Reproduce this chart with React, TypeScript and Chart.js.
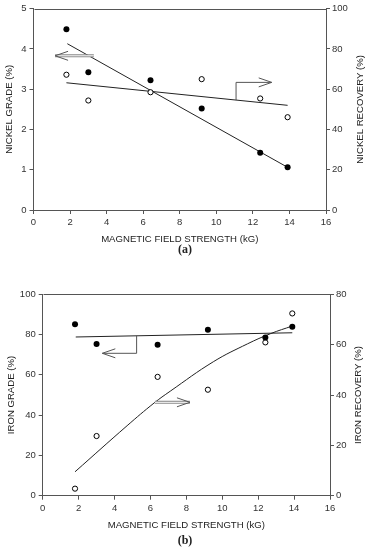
import React, { useEffect, useRef } from 'react';
import { Chart, registerables } from 'chart.js';

Chart.register(...registerables);

// ---------- Panel (a): nickel ----------
const fieldA = [1.8, 3.0, 6.4, 9.2, 12.4, 13.9];
const nickelGrade = [4.49, 3.42, 3.22, 2.52, 1.42, 1.06];
const nickelRecovery = [67.2, 54.4, 58.5, 65.0, 55.4, 46.1];
const nickelGradeFitX = [1.85, 13.9];
const nickelGradeFitY = [4.13, 1.06];
const nickelRecoveryFitX = [1.8, 13.9];
const nickelRecoveryFitY = [63.2, 52.0];
const nickelGradeArrowX = [3.3, 1.18];
const nickelGradeArrowY = [3.83, 3.83];
const nickelRecoveryArrowX = [11.08, 11.08, 13.03];
const nickelRecoveryArrowY = [54.6, 63.4, 63.4];

// ---------- Panel (b): iron ----------
const fieldB = [1.8, 3.0, 6.4, 9.2, 12.4, 13.9];
const ironGrade = [85.1, 75.3, 75.0, 82.4, 78.5, 83.9];
const ironRecovery = [2.8, 23.7, 47.2, 42.1, 60.9, 72.4];
const ironGradeFitX = [1.84, 13.9];
const ironGradeFitY = [78.8, 80.9];
const ironRecoveryCurveX = [1.8, 4.7, 6.2, 7.1, 9.5, 11.4, 12.7, 13.9];
const ironRecoveryCurveY = [9.5, 27.8, 36.8, 41.5, 53.2, 60.3, 64.4, 67.4];
const ironGradeArrowX = [5.23, 5.23, 3.32];
const ironGradeArrowY = [79.4, 70.7, 70.7];
const ironRecoveryArrowX = [6.25, 8.2];
const ironRecoveryArrowY = [37.1, 37.1];

// ---------- axes ----------
const xMin = 0, xMax = 16, xStep = 2;
const xTitle = 'MAGNETIC FIELD STRENGTH (kG)';

const FONT = "'Liberation Sans', Arial, sans-serif";
const AXIS = '#555';
const TXT = '#333';

type ArrowSpec = { xs: number[]; ys: number[]; axis: string; double: boolean };

function pts(xs: number[], ys: number[]) {
  return xs.map((x, i) => ({ x, y: ys[i] }));
}

function makePlugin(arrows: ArrowSpec[], rightTitle: string, rightTitleInset: number) {
  return {
    id: 'decor',
    afterDatasetsDraw(chart: any) {
      const ctx = chart.ctx;
      const area = chart.chartArea;
      const xs = chart.scales.x;
      ctx.save();
      // frame (top line)
      ctx.strokeStyle = AXIS;
      ctx.lineWidth = 1;
      ctx.beginPath();
      ctx.moveTo(Math.round(area.left) + 0.5, Math.round(area.top) + 0.5);
      ctx.lineTo(Math.round(area.right) + 0.5, Math.round(area.top) + 0.5);
      ctx.stroke();
      // arrows
      arrows.forEach((a) => {
        const ys = chart.scales[a.axis];
        const p = a.xs.map((x, i) => [xs.getPixelForValue(x), ys.getPixelForValue(a.ys[i])]);
        const path = () => {
          ctx.beginPath();
          p.forEach((q, i) => (i === 0 ? ctx.moveTo(q[0], q[1]) : ctx.lineTo(q[0], q[1])));
        };
        if (a.double) {
          path();
          ctx.strokeStyle = '#888';
          ctx.lineWidth = 3;
          ctx.stroke();
          path();
          ctx.strokeStyle = '#fff';
          ctx.lineWidth = 1;
          ctx.stroke();
        } else {
          path();
          ctx.strokeStyle = '#555';
          ctx.lineWidth = 1;
          ctx.stroke();
        }
        const tip = p[p.length - 1];
        const prev = p[p.length - 2];
        const dx = tip[0] - prev[0];
        const dy = tip[1] - prev[1];
        const len = Math.hypot(dx, dy) || 1;
        const ux = dx / len, uy = dy / len;
        const L = 13, W = 4.5;
        ctx.beginPath();
        ctx.moveTo(tip[0] - ux * L - uy * W, tip[1] - uy * L + ux * W);
        ctx.lineTo(tip[0], tip[1]);
        ctx.lineTo(tip[0] - ux * L + uy * W, tip[1] - uy * L - ux * W);
        ctx.strokeStyle = '#555';
        ctx.lineWidth = 1;
        ctx.stroke();
      });
      // right axis title, reading bottom-to-top
      ctx.fillStyle = '#222';
      ctx.font = `9.6px ${FONT}`;
      ctx.textAlign = 'center';
      ctx.textBaseline = 'middle';
      ctx.translate(chart.width - rightTitleInset, (area.top + area.bottom) / 2);
      ctx.rotate(-Math.PI / 2);
      ctx.fillText(rightTitle, 0, 0);
      ctx.restore();
    },
  };
}

type PanelCfg = {
  height: number;
  padTop: number;
  leftW: number;
  rightW: number;
  xH: number;
  xTitlePad: number;
  leftTitlePad: number;
  leftMax: number;
  rightMax: number;
  leftStep: number;
  rightStep: number;
  leftTitle: string;
  rightTitle: string;
  rightTitleInset: number;
  gradePts: { x: number; y: number }[];
  recPts: { x: number; y: number }[];
  gradeFit: { x: number; y: number }[];
  recFit: { x: number; y: number }[];
  curved: boolean;
  arrows: ArrowSpec[];
};

function buildConfig(c: PanelCfg): any {
  const tickFont = { family: FONT, size: 9.5 };
  const titleFont = { family: FONT, size: 9.6 };
  const grid = { drawOnChartArea: false, drawTicks: true, tickLength: 4, color: AXIS };
  const border = { display: true, color: AXIS, width: 1 };
  return {
    type: 'scatter',
    data: {
      datasets: [
        {
          label: 'grade',
          data: c.gradePts,
          yAxisID: 'y',
          pointRadius: 3,
          pointBackgroundColor: '#000',
          pointBorderColor: '#000',
          pointBorderWidth: 0,
          showLine: false,
        },
        {
          label: 'recovery',
          data: c.recPts,
          yAxisID: 'y1',
          pointRadius: 2.6,
          pointBackgroundColor: '#fff',
          pointBorderColor: '#000',
          pointBorderWidth: 1,
          showLine: false,
        },
        {
          label: 'grade fit',
          type: 'line',
          data: c.gradeFit,
          yAxisID: 'y',
          borderColor: '#222',
          borderWidth: 1,
          pointRadius: 0,
          fill: false,
        },
        {
          label: 'recovery fit',
          type: 'line',
          data: c.recFit,
          yAxisID: 'y1',
          borderColor: '#222',
          borderWidth: 1,
          pointRadius: 0,
          fill: false,
          tension: c.curved ? 0.4 : 0,
        },
      ],
    },
    options: {
      animation: false,
      responsive: false,
      layout: { padding: { top: c.padTop, left: 0, right: 0, bottom: 0 } },
      plugins: { legend: { display: false }, tooltip: { enabled: false } },
      scales: {
        x: {
          type: 'linear',
          min: xMin,
          max: xMax,
          ticks: { stepSize: xStep, font: tickFont, color: TXT, padding: 3, maxRotation: 0 },
          grid,
          border,
          title: {
            display: true,
            text: xTitle,
            font: titleFont,
            color: '#222',
            padding: { top: 0, bottom: c.xTitlePad },
          },
          afterFit: (s: any) => {
            s.height = c.xH;
          },
        },
        y: {
          type: 'linear',
          position: 'left',
          min: 0,
          max: c.leftMax,
          ticks: { stepSize: c.leftStep, font: tickFont, color: TXT, padding: 3 },
          grid,
          border,
          title: {
            display: true,
            text: c.leftTitle,
            font: titleFont,
            color: '#222',
            padding: { top: c.leftTitlePad, bottom: 0 },
          },
          afterFit: (s: any) => {
            s.width = c.leftW;
          },
        },
        y1: {
          type: 'linear',
          position: 'right',
          min: 0,
          max: c.rightMax,
          ticks: { stepSize: c.rightStep, font: tickFont, color: TXT, padding: 2 },
          grid,
          border,
          afterFit: (s: any) => {
            s.width = c.rightW;
          },
        },
      },
    },
    plugins: [makePlugin(c.arrows, c.rightTitle, c.rightTitleInset)],
  };
}

const panelA: PanelCfg = {
  height: 260,
  padTop: 5.5,
  leftW: 33.5,
  rightW: 41,
  xH: 50,
  xTitlePad: 15.2,
  leftTitlePad: 3.2,
  leftMax: 5,
  rightMax: 100,
  leftStep: 1,
  rightStep: 20,
  leftTitle: 'NICKEL GRADE (%)',
  rightTitle: 'NICKEL RECOVERY (%)',
  rightTitleInset: 7,
  gradePts: pts(fieldA, nickelGrade),
  recPts: pts(fieldA, nickelRecovery),
  gradeFit: pts(nickelGradeFitX, nickelGradeFitY),
  recFit: pts(nickelRecoveryFitX, nickelRecoveryFitY),
  curved: false,
  arrows: [
    { xs: nickelGradeArrowX, ys: nickelGradeArrowY, axis: 'y', double: true },
    { xs: nickelRecoveryArrowX, ys: nickelRecoveryArrowY, axis: 'y1', double: false },
  ],
};

const panelB: PanelCfg = {
  height: 290,
  padTop: 34.3,
  leftW: 42.7,
  rightW: 37,
  xH: 54.3,
  xTitlePad: 19.2,
  leftTitlePad: 5.9,
  leftMax: 100,
  rightMax: 80,
  leftStep: 20,
  rightStep: 20,
  leftTitle: 'IRON GRADE (%)',
  rightTitle: 'IRON RECOVERY (%)',
  rightTitleInset: 9,
  gradePts: pts(fieldB, ironGrade),
  recPts: pts(fieldB, ironRecovery),
  gradeFit: pts(ironGradeFitX, ironGradeFitY),
  recFit: pts(ironRecoveryCurveX, ironRecoveryCurveY),
  curved: true,
  arrows: [
    { xs: ironGradeArrowX, ys: ironGradeArrowY, axis: 'y', double: false },
    { xs: ironRecoveryArrowX, ys: ironRecoveryArrowY, axis: 'y1', double: true },
  ],
};

function Panel({ cfg, top, tag, tagY }: { cfg: PanelCfg; top: number; tag: string; tagY: number }) {
  const ref = useRef<HTMLCanvasElement | null>(null);
  useEffect(() => {
    if (!ref.current) return;
    const chart = new Chart(ref.current, buildConfig(cfg));
    return () => chart.destroy();
  }, [cfg]);
  return (
    <>
      <div style={{ position: 'absolute', left: 0, top, width: 367, height: cfg.height }}>
        <canvas ref={ref} width={367} height={cfg.height} style={{ width: 367, height: cfg.height, display: 'block' }} />
      </div>
      <div
        style={{
          position: 'absolute',
          left: 0,
          top: tagY - 7,
          width: 370,
          height: 14,
          lineHeight: '14px',
          textAlign: 'center',
          font: "bold 12px 'Liberation Serif', 'Times New Roman', serif",
          color: '#222',
        }}
      >
        {tag}
      </div>
    </>
  );
}

export default function App() {
  return (
    <div style={{ position: 'absolute', left: 0, top: 0, width: 367, height: 550, background: '#fff', overflow: 'hidden' }}>
      <Panel cfg={panelA} top={0} tag="(a)" tagY={249} />
      <Panel cfg={panelB} top={260} tag="(b)" tagY={540} />
    </div>
  );
}
